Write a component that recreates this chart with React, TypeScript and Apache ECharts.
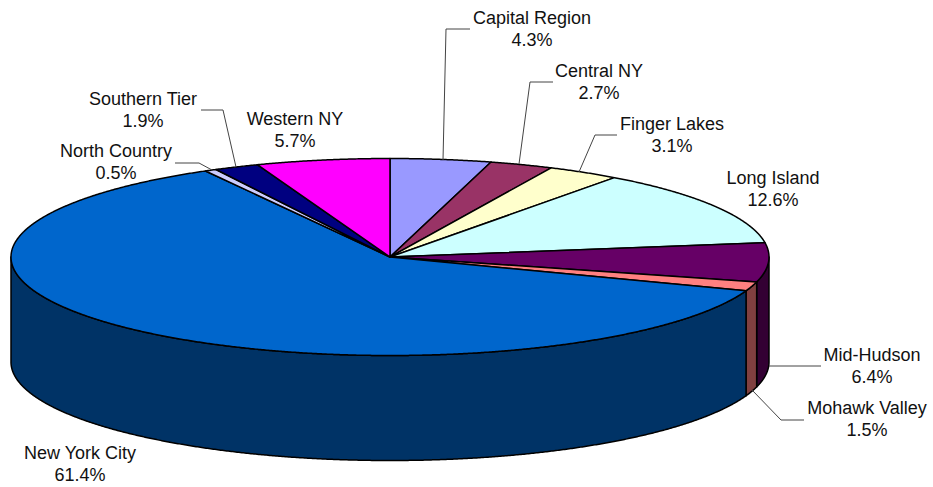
import React, { useEffect, useRef } from "react";
import * as echarts from "echarts";

const regions = ["Capital Region", "Central NY", "Finger Lakes", "Long Island", "Mid-Hudson", "Mohawk Valley", "New York City", "North Country", "Southern Tier", "Western NY"];
const shares = [4.3, 2.7, 3.1, 12.6, 6.4, 1.5, 61.4, 0.5, 1.9, 5.7];
const topColors = ["#9999FF", "#993366", "#FFFFCC", "#CCFFFF", "#660066", "#FF8080", "#0066CC", "#CCCCFF", "#000080", "#FF00FF"];
const sideColors = ["#4D4D80", "#4D1A33", "#808066", "#668080", "#330033", "#804040", "#003366", "#666680", "#000040", "#800080"];

const labelCentres: number[][] = [[532, 29], [599, 82], [672, 135], [773, 189], [872, 366], [867, 419], [80, 464], [116, 162], [143, 110], [295, 130]];
const leaders: (number[][] | null)[] = [
  [[470, 29], [446, 29], [443, 160]],
  [[553, 82], [530, 82], [519, 164]],
  [[617, 135], [595, 135], [579, 172]],
  null,
  [[821, 366], [769, 366]],
  [[804, 420], [781, 420], [752, 390]],
  null,
  [[175, 163], [199, 163], [212, 170]],
  [[201, 110], [223, 110], [236, 167]],
  null,
];

const CX = 390, CY = 257, RX = 379, RY = 98.5, DEPTH = 105;
const total = shares.reduce((a, b) => a + b, 0);
const pt = (frac: number, dy = 0) => {
  const t = frac * 2 * Math.PI;
  return [CX + RX * Math.sin(t), CY - RY * Math.cos(t) + dy];
};
const arc = (a: number, b: number, dy = 0) => {
  const n = Math.max(2, Math.ceil((b - a) * 1440));
  const out: number[][] = [];
  for (let i = 0; i <= n; i++) out.push(pt(a + ((b - a) * i) / n, dy));
  return out;
};

function renderItem(params: any, api: any) {
  const i = params.dataIndex;
  let before = 0;
  for (let k = 0; k < i; k++) before += shares[k];
  const a = before / total;
  const b = (before + api.value(0)) / total;
  const children: any[] = [];
  const sa = Math.max(a, 0.25), sb = Math.min(b, 0.75);
  if (sb > sa) {
    children.push({
      type: "polygon",
      shape: { points: [...arc(sa, sb), ...arc(sa, sb, DEPTH).reverse()] },
      style: { fill: sideColors[i], stroke: "#000", lineWidth: 1.5, lineJoin: "round" },
    });
  }
  children.push({
    type: "polygon",
    shape: { points: [[CX, CY], ...arc(a, b)] },
    style: { fill: topColors[i], stroke: "#000", lineWidth: 1.5, lineJoin: "round" },
  });
  const leader = leaders[i];
  if (leader) {
    children.push({
      type: "polyline",
      shape: { points: leader },
      style: { fill: "none", stroke: "#444", lineWidth: 1 },
    });
  }
  const [lx, ly] = labelCentres[i];
  children.push({
    type: "text",
    x: lx,
    y: ly,
    style: {
      text: `${regions[i]}\n${shares[i].toFixed(1)}%`,
      fill: "#111",
      font: '18px "Liberation Sans", Arial, sans-serif',
      lineHeight: 22,
      align: "center",
      verticalAlign: "middle",
    },
  });
  return { type: "group", children };
}

export default function App() {
  const ref = useRef<HTMLDivElement>(null);
  useEffect(() => {
    document.body.style.margin = "0";
    const chart = echarts.init(ref.current!, null, { renderer: "svg" });
    chart.setOption({
      animation: false,
      backgroundColor: "#fff",
      series: [
        {
          type: "custom",
          coordinateSystem: "none",
          clip: false,
          silent: true,
          renderItem,
          data: shares.map((v, i) => ({ name: regions[i], value: [v] })),
        },
      ],
    });
    return () => chart.dispose();
  }, []);
  return <div ref={ref} style={{ width: 933, height: 487 }} />;
}
